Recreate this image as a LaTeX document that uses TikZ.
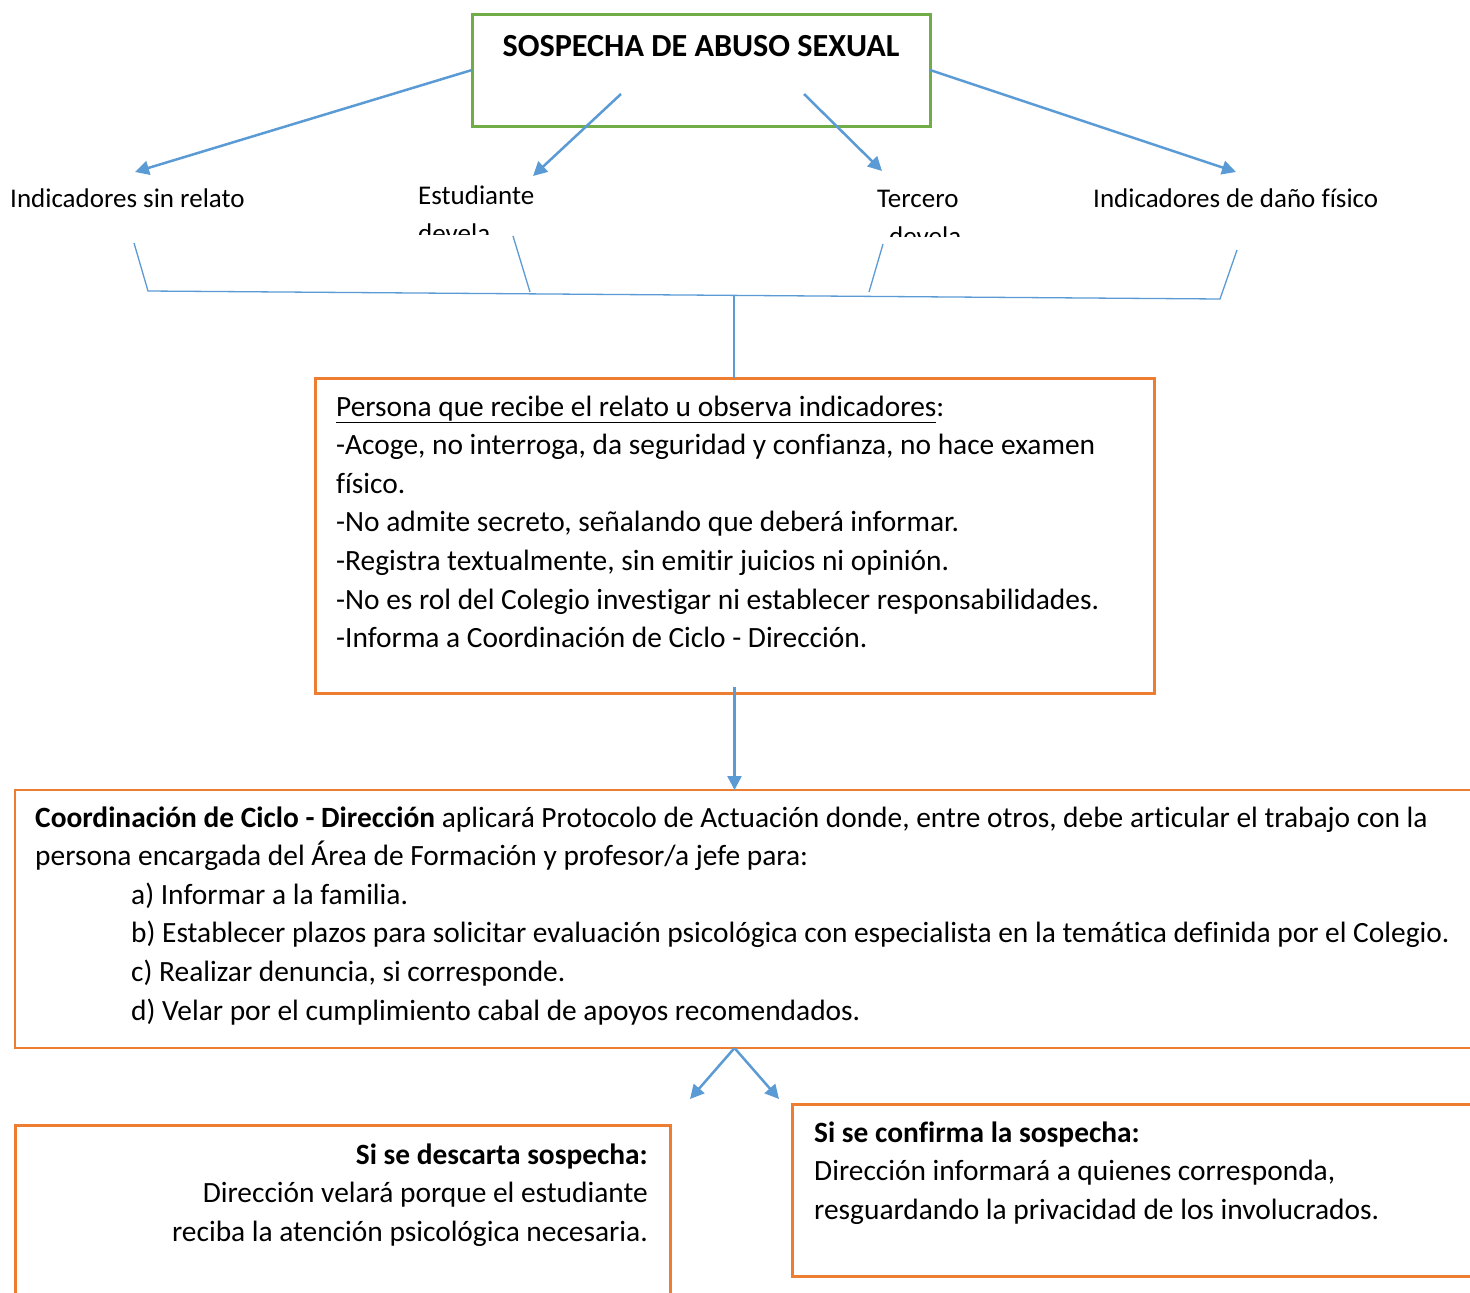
\documentclass[tikz,border=0pt]{standalone}
\usepackage{fontspec}
\setmainfont{Carlito}[Ligatures=NoCommon]
\usetikzlibrary{arrows.meta}
\definecolor{blu}{HTML}{5B9BD5}
\definecolor{org}{HTML}{ED7D31}
\definecolor{grn}{HTML}{70AD47}
\begin{document}
\begin{tikzpicture}[x=1pt,y=-1pt,
  box/.style={draw, rectangle, inner sep=0pt, outer sep=0pt, anchor=north west},
  lbl/.style={anchor=base west, inner sep=0pt, font=\fontsize{27}{38.6}\selectfont},
  txt/.style={anchor=base west, inner sep=0pt, font=\fontsize{29.4}{38.6}\selectfont},
  txtr/.style={txt, anchor=base east},
  arr/.style={blu, line width=2.5pt, -{Triangle[length=14pt,width=14pt]}},
  thinline/.style={blu, line width=1.3pt}]
\clip (0,0) rectangle (1470,1293);
\fill[white] (0,0) rectangle (1470,1293);

% top box
\node[box, grn, line width=3pt, minimum width=458pt, minimum height=112pt] (top) at (472,14) {};
\node[anchor=base, inner sep=0pt, font=\bfseries\fontsize{32.2}{38}\selectfont] (title) at (701,56) {SOSPECHA DE ABUSO SEXUAL};

% labels
\node[lbl] (l1) at (10,207) {Indicadores sin relato};
\begin{scope}
\clip (400,150) rectangle (600,234);
\node[lbl] (l2) at (418,204) {Estudiante};
\node[lbl] (l2b) at (418,242.6) {devela};
\end{scope}
\begin{scope}
\clip (860,150) rectangle (1000,236);
\node[lbl] (l3) at (877,207) {Tercero};
\node[lbl] (l3b) at (889,245.6) {devela};
\end{scope}
\node[lbl] (l4) at (1093,207) {Indicadores de daño físico};

% arrows from top box
\coordinate (s2) at (621,94);
\coordinate (s3) at (804,94);
\coordinate (t1) at (135,172);
\coordinate (t2) at (533,176);
\coordinate (t3) at (882,171);
\coordinate (t4) at (1236,172);
\draw[arr] (top.west) -- (t1);
\draw[arr] (s2) -- (t2);
\draw[arr] (s3) -- (t3);
\draw[arr] (top.east) -- (t4);

% bracket
\coordinate (b1a) at (134,243); \coordinate (b1b) at (148,291);
\coordinate (b2a) at (513,236); \coordinate (b2b) at (530,292);
\coordinate (b3a) at (883,244); \coordinate (b3b) at (869,292);
\coordinate (b4a) at (1237,250); \coordinate (b4b) at (1220,299);
\coordinate (bm) at (734,296);
\draw[thinline] (b1a) -- (b1b) -- (b4b) -- (b4a);
\draw[thinline] (b2a) -- (b2b);
\draw[thinline] (b3a) -- (b3b);

% box 2
\node[box, org, line width=3pt, minimum width=839pt, minimum height=315pt] (box2) at (315,378) {};
\draw[thinline] (bm) -- (bm |- box2.north);
\node[txt] (p1) at (336,416) {\underline{Persona que recibe el relato u observa indicadores}:};
\node[txt] (p2) at (336,454.6) {-Acoge, no interroga, da seguridad y confianza, no hace examen};
\node[txt] (p3) at (336,493.2) {físico.};
\node[txt] (p4) at (336,531.8) {-No admite secreto, señalando que deberá informar.};
\node[txt] (p5) at (336,570.4) {-Registra textualmente, sin emitir juicios ni opinión.};
\node[txt] (p6) at (336,609) {-No es rol del Colegio investigar ni establecer responsabilidades.};
\node[txt] (p7) at (336,647.6) {-Informa a Coordinación de Ciclo - Dirección.};

% big box
\node[box, org, line width=1.3pt, minimum width=1480pt, minimum height=258pt] (big) at (15,790) {};
\draw[arr] ([yshift=6pt]box2.south) -- (box2.south |- big.north);
\node[txt] (c1) at (35,827) {\textbf{Coordinación de Ciclo - Dirección} aplicará Protocolo de Actuación donde, entre otros, debe articular el trabajo con la};
\node[txt] (c2) at (35,865.6) {persona encargada del Área de Formación y profesor/a jefe para:};
\node[txt] (c3) at (131,904.2) {a) Informar a la familia.};
\node[txt] (c4) at (131,942.8) {b) Establecer plazos para solicitar evaluación psicológica con especialista en la temática definida por el Colegio.};
\node[txt] (c5) at (131,981.4) {c) Realizar denuncia, si corresponde.};
\node[txt] (c6) at (131,1020) {d) Velar por el cumplimiento cabal de apoyos recomendados.};

% fork
\coordinate (fork) at (box2.south |- big.south);
\coordinate (fl) at (690,1099);
\coordinate (fr) at (779,1099);
\draw[arr] (fork) -- (fl);
\draw[arr] (fork) -- (fr);

% bottom boxes
\node[box, org, line width=3pt, minimum width=655pt, minimum height=200pt] (left) at (15,1125) {};
\node[txtr] (d1) at (648,1164) {\textbf{Si se descarta sospecha:}};
\node[txtr] (d2) at (648,1202.6) {Dirección velará porque el estudiante};
\node[txtr] (d3) at (648,1241.2) {reciba la atención psicológica necesaria.};

\node[box, org, line width=3pt, minimum width=700pt, minimum height=172pt] (right) at (792,1104) {};
\node[txt] (e1) at (814,1142) {\textbf{Si se confirma la sospecha:}};
\node[txt] (e2) at (814,1180.6) {Dirección informará a quienes corresponda,};
\node[txt] (e3) at (814,1219.2) {resguardando la privacidad de los involucrados.};
\end{tikzpicture}
\end{document}
